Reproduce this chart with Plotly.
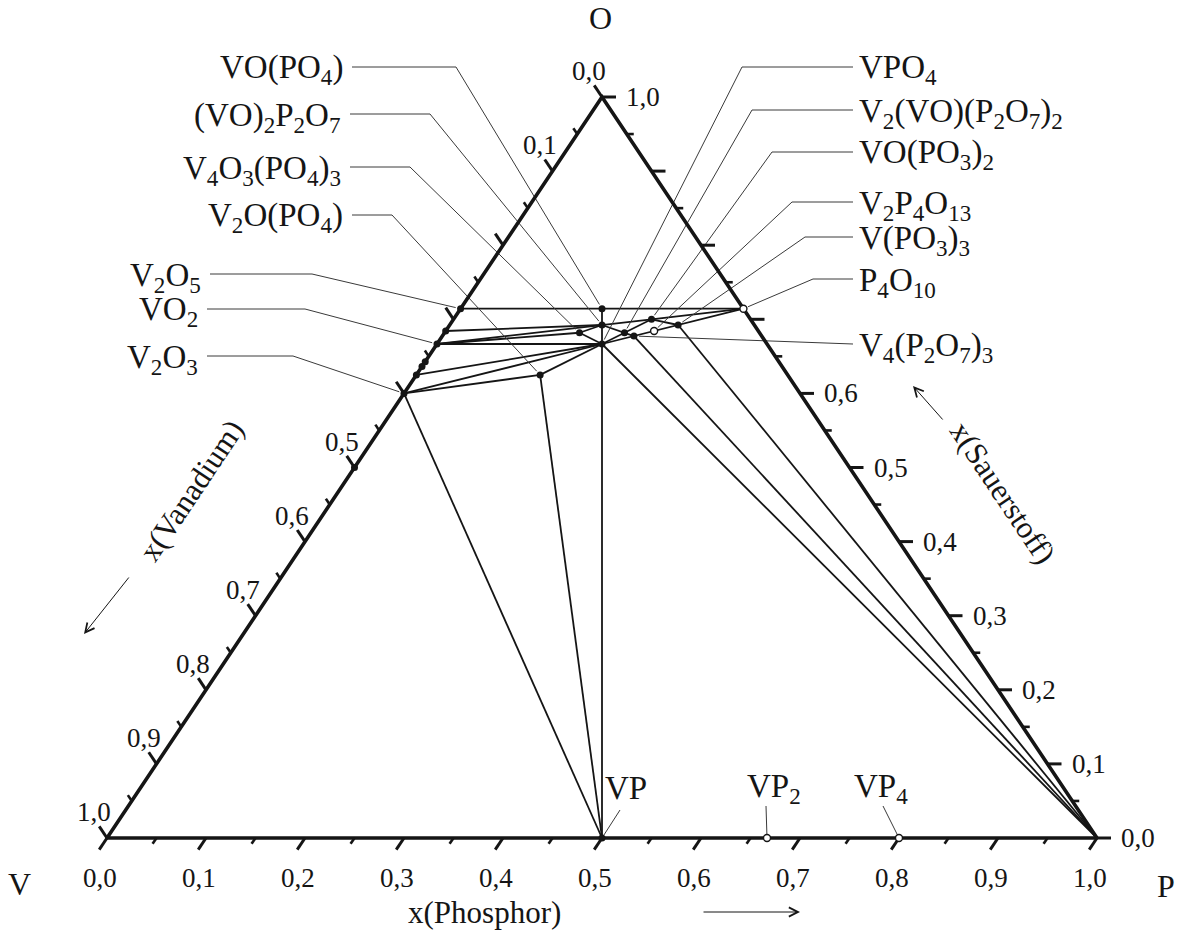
import math
import plotly.graph_objects as go

# ---------------- data ----------------
phases  = ["V2O5", "V6O13", "VO2", "V5O9", "V4O7", "V3O5", "V2O3", "VO",
           "VOPO4", "(VO)2P2O7", "VPO4", "V4O3(PO4)3", "V2O(PO4)",
           "V2(VO)(P2O7)2", "VO(PO3)2", "V(PO3)3", "V4(P2O7)3", "VP",
           "P4O10", "V2P4O13", "VP2", "VP4", "V", "P", "O"]
atoms_V = [2, 6, 1, 5, 4, 3, 2, 1, 1, 2, 1, 4, 2, 3, 1, 1, 4, 1, 0, 2, 1, 1, 1, 0, 0]
atoms_P = [0, 0, 0, 0, 0, 0, 0, 0, 1, 2, 1, 3, 1, 4, 2, 3, 6, 1, 4, 4, 2, 4, 0, 1, 0]
atoms_O = [5, 13, 2, 9, 7, 5, 3, 1, 5, 9, 4, 15, 5, 15, 7, 9, 21, 0, 10, 13, 0, 0, 0, 0, 1]

filled_phases = ["V2O5", "V6O13", "VO2", "V5O9", "V4O7", "V3O5", "V2O3", "VO",
                 "VOPO4", "(VO)2P2O7", "VPO4", "V4O3(PO4)3", "V2O(PO4)",
                 "V2(VO)(P2O7)2", "VO(PO3)2", "V(PO3)3", "V4(P2O7)3", "VP"]
open_phases = ["P4O10", "V2P4O13", "VP2", "VP4"]

tie_lines = [
    ("V2O5", "P4O10"), ("VOPO4", "VP"), ("VO2", "VPO4"), ("V3O5", "VPO4"),
    ("V2O3", "VPO4"), ("V2O3", "V2O(PO4)"), ("V2O(PO4)", "VPO4"),
    ("V2O(PO4)", "VP"), ("V2O3", "VP"), ("VPO4", "P4O10"), ("VPO4", "P"),
    ("V4(P2O7)3", "P"), ("V(PO3)3", "P"), ("V6O13", "(VO)2P2O7"),
    ("VO2", "VO(PO3)2"), ("VO(PO3)2", "P4O10"), ("VO(PO3)2", "V(PO3)3"),
    ("VO2", "V4O3(PO4)3"), ("V4O3(PO4)3", "(VO)2P2O7"), ("V4O3(PO4)3", "VPO4"),
    ("VPO4", "VO(PO3)2"), ("(VO)2P2O7", "V4(P2O7)3"),
]

major_ticks = [0.0, 0.1, 0.2, 0.3, 0.4, 0.5, 0.6, 0.7, 0.8, 0.9, 1.0]
bottom_tick_labels = ["0,0", "0,1", "0,2", "0,3", "0,4", "0,5", "0,6", "0,7", "0,8", "0,9", "1,0"]
right_tick_labels = ["0,0", "0,1", "0,2", "0,3", "0,4", "0,5", "0,6", "", "", "", "1,0"]
left_tick_labels = ["0,0", "0,1", "", "", "", "0,5", "0,6", "0,7", "0,8", "0,9", "1,0"]
minor_ticks = [0.05, 0.15, 0.25, 0.35, 0.45, 0.55, 0.65, 0.75, 0.85, 0.95]

# ---------------- frame / layout helpers ----------------
W, H = 1188, 936
PX0, PY0, SX, SY = 107, 838, 990, 741      # pixel position of V corner and scale
FONT = "Liberation Serif, Times New Roman, serif"
INK = "#151515"


def comp(name):
    i = phases.index(name)
    s = atoms_V[i] + atoms_P[i] + atoms_O[i]
    xp, xo = atoms_P[i] / s, atoms_O[i] / s
    return xp + 0.5 * xo, xo


def to_px(X, Y):
    return PX0 + SX * X, PY0 - SY * Y


def to_data(px, py):
    return (px - PX0) / SX, (PY0 - py) / SY


def paper(px, py):
    return px / W, 1 - py / H


fig = go.Figure()

# tie lines
tx, ty = [], []
for a, b in tie_lines:
    xa, ya = comp(a)
    xb, yb = comp(b)
    tx += [xa, xb, None]
    ty += [ya, yb, None]
fig.add_trace(go.Scatter(x=tx, y=ty, mode="lines", line=dict(color=INK, width=1.8),
                         hoverinfo="skip"))

# label layout (pixel positions of leader start / bend and text)
left_labels = [
    ("VOPO4", "VO(PO<sub>4</sub>)", 67, 352, 456),
    ("(VO)2P2O7", "(VO)<sub>2</sub>P<sub>2</sub>O<sub>7</sub>", 114, 350, 430),
    ("V4O3(PO4)3", "V<sub>4</sub>O<sub>3</sub>(PO<sub>4</sub>)<sub>3</sub>", 167, 350, 410),
    ("V2O(PO4)", "V<sub>2</sub>O(PO<sub>4</sub>)", 215, 352, 392),
    ("V2O5", "V<sub>2</sub>O<sub>5</sub>", 274, 210, 312),
    ("VO2", "VO<sub>2</sub>", 309, 207, 305),
    ("V2O3", "V<sub>2</sub>O<sub>3</sub>", 356, 207, 293),
]
right_labels = [
    ("VPO4", "VPO<sub>4</sub>", 67, 742),
    ("V2(VO)(P2O7)2", "V<sub>2</sub>(VO)(P<sub>2</sub>O<sub>7</sub>)<sub>2</sub>", 110, 752),
    ("VO(PO3)2", "VO(PO<sub>3</sub>)<sub>2</sub>", 152, 772),
    ("V2P4O13", "V<sub>2</sub>P<sub>4</sub>O<sub>13</sub>", 202, 792),
    ("V(PO3)3", "V(PO<sub>3</sub>)<sub>3</sub>", 237, 805),
    ("P4O10", "P<sub>4</sub>O<sub>10</sub>", 279, 813),
    ("V4(P2O7)3", "V<sub>4</sub>(P<sub>2</sub>O<sub>7</sub>)<sub>3</sub>", 344, None),
]
RIGHT_END = 853
bottom_labels = [
    ("VP", "VP", 626, 620, 810),
    ("VP2", "VP<sub>2</sub>", 774, 766, 806),
    ("VP4", "VP<sub>4</sub>", 881, 883, 806),
]

annotations = []
LABEL_SIZE = 33


def end_near(name, bx, by, gap=5):
    px, py = to_px(*comp(name))
    dx, dy = bx - px, by - py
    d = math.hypot(dx, dy)
    return px + gap * dx / d, py + gap * dy / d


lx, ly = [], []
for name, text, y, start, bend in left_labels:
    ex, ey = end_near(name, bend, y)
    for p in [(start, y), (bend, y), (ex, ey)]:
        d = to_data(*p)
        lx.append(d[0]); ly.append(d[1])
    lx.append(None); ly.append(None)
    xp, yp = paper(start - 7, y)
    annotations.append(dict(x=xp, y=yp, xref="paper", yref="paper", text=text,
                            showarrow=False, xanchor="right", yanchor="middle",
                            yshift=-3, font=dict(size=LABEL_SIZE, family=FONT, color=INK)))
for name, text, y, bend in right_labels:
    pts = [(RIGHT_END, y)]
    if bend is not None:
        pts.append((bend, y))
        ex, ey = end_near(name, bend, y)
    else:
        ex, ey = end_near(name, RIGHT_END, y)
    pts.append((ex, ey))
    for p in pts:
        d = to_data(*p)
        lx.append(d[0]); ly.append(d[1])
    lx.append(None); ly.append(None)
    xp, yp = paper(RIGHT_END + 4, y)
    annotations.append(dict(x=xp, y=yp, xref="paper", yref="paper", text=text,
                            showarrow=False, xanchor="left", yanchor="middle",
                            yshift=-3, font=dict(size=LABEL_SIZE, family=FONT, color=INK)))
for name, text, cx, bx, by in bottom_labels:
    ex, ey = end_near(name, bx, by, gap=3)
    for p in [(bx, by), (ex, ey)]:
        d = to_data(*p)
        lx.append(d[0]); ly.append(d[1])
    lx.append(None); ly.append(None)
    xp, yp = paper(cx, 788)
    annotations.append(dict(x=xp, y=yp, xref="paper", yref="paper", text=text,
                            showarrow=False, xanchor="center", yanchor="middle",
                            font=dict(size=LABEL_SIZE, family=FONT, color=INK)))

fig.add_trace(go.Scatter(x=lx, y=ly, mode="lines", line=dict(color="#3a3a3a", width=1),
                         hoverinfo="skip"))

# triangle edges
cV, cP, cO = comp("V"), comp("P"), comp("O")
fig.add_trace(go.Scatter(x=[cV[0], cP[0], cO[0], cV[0]], y=[cV[1], cP[1], cO[1], cV[1]],
                         mode="lines", line=dict(color=INK, width=3.6), hoverinfo="skip"))

# ticks
pV, pP, pO = to_px(*cV), to_px(*cP), to_px(*cO)


def unit(a, b):
    dx, dy = b[0] - a[0], b[1] - a[1]
    d = math.hypot(dx, dy)
    return dx / d, dy / d


dir_bottom = unit(pO, pV)        # parallel to left edge, pointing down-left
dir_left = unit(pP, pO)          # parallel to right edge, pointing up-left
dir_right = (1.0, 0.0)


def axis_point(axis, t):
    if axis == "bottom":      # x(P)
        return t, 0.0
    if axis == "right":       # x(O)
        return 1 - 0.5 * t, t
    return 0.5 * (1 - t), 1 - t   # left: x(V)


def tick_segments(values, length):
    xs, ys = [], []
    for axis, dvec in [("bottom", dir_bottom), ("right", dir_right), ("left", dir_left)]:
        for t in values:
            X, Y = axis_point(axis, t)
            px, py = to_px(X, Y)
            e = to_data(px + length * dvec[0], py + length * dvec[1])
            xs += [X, e[0], None]
            ys += [Y, e[1], None]
    return xs, ys


mx, my = tick_segments(major_ticks, 14)
fig.add_trace(go.Scatter(x=mx, y=my, mode="lines", line=dict(color=INK, width=3),
                         hoverinfo="skip"))
nx, ny = tick_segments(minor_ticks, 7)
fig.add_trace(go.Scatter(x=nx, y=ny, mode="lines", line=dict(color=INK, width=2.6),
                         hoverinfo="skip"))

# phase points
fx = [comp(n)[0] for n in filled_phases]
fy = [comp(n)[1] for n in filled_phases]
fig.add_trace(go.Scatter(x=fx, y=fy, mode="markers",
                         marker=dict(size=7, color=INK, line=dict(width=0)), hoverinfo="skip"))
ox = [comp(n)[0] for n in open_phases]
oy = [comp(n)[1] for n in open_phases]
fig.add_trace(go.Scatter(x=ox, y=oy, mode="markers",
                         marker=dict(size=7, color="white", line=dict(width=1.4, color=INK)),
                         hoverinfo="skip"))

# tick labels
TICK_SIZE = 27
tick_style = {
    "bottom": dict(xanchor="center", xshift=-7, yshift=-40),
    "right": dict(xanchor="left", xshift=22, yshift=0),
    "left": dict(xanchor="center", xshift=-13, yshift=26),
}
for axis, labels in [("bottom", bottom_tick_labels), ("right", right_tick_labels),
                     ("left", left_tick_labels)]:
    for t, lab in zip(major_ticks, labels):
        if not lab:
            continue
        X, Y = axis_point(axis, t)
        annotations.append(dict(x=X, y=Y, xref="x", yref="y", text=lab, showarrow=False,
                                yanchor="middle", font=dict(size=TICK_SIZE, family=FONT, color=INK),
                                **tick_style[axis]))

# corner labels
for txt, px, py in [("V", 19, 884), ("P", 1166, 886), ("O", 601, 18)]:
    xp, yp = paper(px, py)
    annotations.append(dict(x=xp, y=yp, xref="paper", yref="paper", text=txt, showarrow=False,
                            xanchor="center", yanchor="middle",
                            font=dict(size=32, family=FONT, color=INK)))

# axis titles
for txt, px, py, ang in [("x(Phosphor)", 484, 912, 0),
                         ("x(Vanadium)", 191, 490, -56.2),
                         ("x(Sauerstoff)", 1003, 492, 56.2)]:
    xp, yp = paper(px, py)
    annotations.append(dict(x=xp, y=yp, xref="paper", yref="paper", text=txt, showarrow=False,
                            xanchor="center", yanchor="middle", textangle=ang,
                            font=dict(size=31, family=FONT, color=INK)))

# arrows
for hx, hy, tx_, ty_ in [(800, 912, 702, 912), (84, 634, 130, 576), (913, 386, 944, 421)]:
    xp, yp = paper(hx, hy)
    annotations.append(dict(x=xp, y=yp, xref="paper", yref="paper", text="", showarrow=True,
                            ax=tx_ - hx, ay=ty_ - hy, arrowhead=5, arrowsize=1.8,
                            arrowwidth=1, arrowcolor=INK))

x0, _ = to_data(0, 0)
x1, _ = to_data(W, 0)
_, y0 = to_data(0, H)
_, y1 = to_data(0, 0)
fig.update_layout(
    width=W, height=H, margin=dict(l=0, r=0, t=0, b=0),
    paper_bgcolor="white", plot_bgcolor="white", showlegend=False,
    xaxis=dict(range=[x0, x1], visible=False, fixedrange=True),
    yaxis=dict(range=[y0, y1], visible=False, fixedrange=True),
    annotations=annotations,
)
fig.write_html("out.html")
